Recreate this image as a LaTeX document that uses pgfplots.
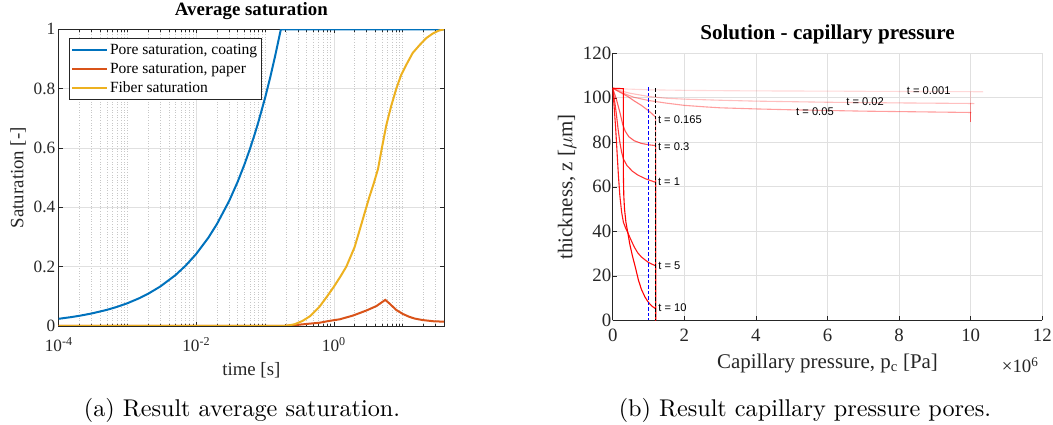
\documentclass[border=0pt]{standalone}
\usepackage{fontspec}
\usepackage{graphicx}
\usepackage{pgfplots}
\pgfplotsset{compat=1.18}
\newfontfamily\tnr{Liberation Serif}
\newfontfamily\arial{Liberation Sans}
\definecolor{mblue}{rgb}{0,0.447,0.741}
\definecolor{morange}{rgb}{0.85,0.325,0.098}
\definecolor{myellow}{rgb}{0.929,0.694,0.125}
\definecolor{maxis}{rgb}{0.15,0.15,0.15}
\definecolor{mgrid}{rgb}{0.88,0.88,0.88}
\definecolor{mminor}{rgb}{0.78,0.78,0.78}
\begin{document}
\begin{tikzpicture}
\useasboundingbox (0,0) rectangle (1053bp,425bp);
% ---------------- left: average saturation ----------------
\begin{axis}[
  at={(58.7bp,99bp)}, anchor=south west,
  scale only axis, width=385.3bp, height=296.7bp,
  xmode=log, xmin=1e-4, xmax=40, ymin=0, ymax=1,
  xtick={1e-4,1e-2,1},
  xticklabels={10\textsuperscript{-4},10\textsuperscript{-2},10\textsuperscript{0}},
  minor xtick={2e-4,3e-4,4e-4,5e-4,6e-4,7e-4,8e-4,9e-4,1e-3,2e-3,3e-3,4e-3,5e-3,6e-3,7e-3,8e-3,9e-3,
               2e-2,3e-2,4e-2,5e-2,6e-2,7e-2,8e-2,9e-2,1e-1,2e-1,3e-1,4e-1,5e-1,6e-1,7e-1,8e-1,9e-1,
               2,3,4,5,6,7,8,9,10,20,30},
  ytick={0,0.2,0.4,0.6,0.8,1},
  yticklabels={0,0.2,0.4,0.6,0.8,1},
  tick align=inside,
  major tick length=4bp, minor tick length=2.5bp,
  every tick/.style={maxis, line width=0.5bp},
  axis line style={maxis, line width=0.6bp},
  xmajorgrids, ymajorgrids, xminorgrids,
  major grid style={mgrid, line width=0.6bp},
  minor grid style={mminor, line width=0.45bp, dash pattern=on 0.6bp off 2bp},
  tick label style={font=\tnr\fontsize{17.3}{20}\selectfont, text=maxis},
  xticklabel style={yshift=-8bp},
  xlabel={time [s]}, ylabel={Saturation [-]},
  label style={font=\tnr\fontsize{18.9}{22}\selectfont, text=maxis},
  xlabel style={at={(axis description cs:0.5,-0.1685)}, anchor=base},
  ylabel style={at={(axis description cs:-0.1056,0.5)}, anchor=center},
  title={Average saturation},
  title style={font=\tnr\bfseries\fontsize{18.9}{22}\selectfont, text=black,
               at={(axis description cs:0.5,1.0256)}, anchor=base},
  legend style={at={(axis description cs:0.026,0.9697)}, anchor=north west,
                font=\tnr\fontsize{15.6}{18.3}\selectfont, draw=maxis, fill=white,
                line width=0.6bp, inner xsep=2bp, inner ysep=3.5bp, row sep=3.2bp},
  legend cell align=left,
  legend image code/.code={\draw[#1] (0bp,0bp) -- (35bp,0bp);},
]
\addplot[mblue, line width=2bp] coordinates {
 (1e-4,0.0243) (1.5e-4,0.0298) (2e-4,0.0344) (3e-4,0.0421) (5e-4,0.0543) (7e-4,0.0643)
 (1e-3,0.0768) (1.5e-3,0.0941) (2e-3,0.1087) (3e-3,0.1331) (5e-3,0.1718) (7e-3,0.2033)
 (1e-2,0.2430) (1.5e-2,0.2976) (2e-2,0.3437) (3e-2,0.4209) (4e-2,0.4860) (5e-2,0.5434)
 (6e-2,0.5952) (7e-2,0.6429) (8e-2,0.6873) (0.1,0.7684) (0.12,0.8418) (0.14,0.9092)
 (0.16,0.9720) (0.17,1.0) (40,1.0)};
\addlegendentry{Pore saturation, coating}
\addplot[morange, line width=2bp] coordinates {
 (1e-4,0) (0.18,0) (0.3,0.004) (0.45,0.008) (0.62,0.011) (0.85,0.017) (1.22,0.0226)
 (1.89,0.035) (2.96,0.052) (4.15,0.067) (5,0.08) (5.6,0.088) (6.5,0.075) (8.1,0.054)
 (10,0.041) (12.5,0.031) (15,0.025) (19.6,0.02) (28,0.016) (40,0.0145)};
\addlegendentry{Pore saturation, paper}
\addplot[myellow, line width=2bp] coordinates {
 (1e-4,0) (0.18,0) (0.22,0.002) (0.27,0.006) (0.35,0.017) (0.45,0.033) (0.62,0.065)
 (0.8,0.1) (1,0.132) (1.25,0.167) (1.52,0.2) (2,0.265) (2.38,0.324) (2.8,0.38) (3.3,0.436)
 (3.8,0.48) (4.4,0.53) (5,0.6) (5.8,0.677) (6.8,0.74) (8.1,0.8) (9.5,0.845) (11.3,0.88)
 (14,0.92) (17.7,0.947) (22,0.97) (27.6,0.986) (33,0.995) (40,1)};
\addlegendentry{Fiber saturation}
\end{axis}
% ---------------- right: capillary pressure ----------------
\begin{axis}[
  at={(612.7bp,104.7bp)}, anchor=south west,
  scale only axis, width=429.6bp, height=267bp,
  xmin=0, xmax=12, ymin=0, ymax=120,
  xtick={0,2,4,6,8,10,12}, xticklabels={0,2,4,6,8,10,12},
  ytick={0,20,40,60,80,100,120}, yticklabels={0,20,40,60,80,100,120},
  axis x line*=bottom, axis y line*=left,
  axis line style={-, maxis, line width=0.6bp},
  tick align=inside, major tick length=4bp,
  every tick/.style={maxis, line width=0.5bp},
  xmajorgrids, ymajorgrids,
  major grid style={mgrid, line width=0.6bp},
  tick label style={font=\tnr\fontsize{18.9}{22}\selectfont, text=maxis},
  xticklabel style={yshift=-5bp},
  yticklabel style={xshift=2bp},
  xlabel={Capillary pressure, p\textsubscript{c} [Pa]},
  ylabel={thickness, z [$\mu$m]},
  label style={font=\tnr\fontsize{21}{24}\selectfont, text=maxis},
  xlabel style={at={(axis description cs:0.5,-0.1787)}, anchor=base},
  ylabel style={at={(axis description cs:-0.106,0.5)}, anchor=center},
  title={Solution - capillary pressure},
  title style={font=\tnr\bfseries\fontsize{21.2}{24}\selectfont, text=black,
               at={(axis description cs:0.5,1.031)}, anchor=base},
  extra description/.code={
    \node[anchor=base west, font=\tnr\fontsize{18.9}{22}\selectfont, text=maxis, inner sep=0pt]
      at (0.9055,-0.196) {×10\textsuperscript{6}};
  },
]
\addplot[red, draw opacity=0.15, line width=1.1bp] coordinates {
 (0,104.3) (0.3,104) (1,103.6) (2,103.35) (3,103.2) (4,103.1) (6,103) (8,102.85) (10,102.75) (10.35,102.7)};
\addplot[red, draw opacity=0.15, line width=1.1bp] coordinates {(10,102.75) (10,89.3)};
\addplot[red, draw opacity=0.25, line width=1.1bp] coordinates {
 (0,104.3) (0.25,103) (0.5,102) (1,100.6) (1.5,99.8) (2,99.4) (3,98.9) (4,98.5) (6,98) (8,97.7) (10,97.45) (10.1,97.4)};
\addplot[red, draw opacity=0.25, line width=1.1bp] coordinates {(10,97.45) (10,89.3)};
\addplot[red, draw opacity=0.38, line width=1.1bp] coordinates {
 (0,104.3) (0.3,102) (0.6,100.2) (1,98.8) (1.5,97.6) (2,96.6) (2.6,95.9) (3,95.5) (4,95.0)
 (5,94.6) (6,94.3) (7,94) (8,93.8) (9,93.6) (10,93.4) (10.02,93.4)};
\addplot[red, draw opacity=0.38, line width=1.1bp] coordinates {(10,93.4) (10,89.3)};
\addplot[red, draw opacity=0.5, line width=1.1bp] coordinates {
 (0,104.3) (0.2,102.5) (0.43,100.5) (0.6,98.6) (0.8,96.6) (1.0,94.2) (1.1,92.8) (1.2,91.2) (1.2,0)};
\addplot[red, draw opacity=0.65, line width=1.1bp] coordinates {
 (0,104.3) (0.1,99.5) (0.2,93.5) (0.28,88) (0.35,85) (0.45,82.5) (0.6,80.7) (0.8,79.5) (1.0,78.9) (1.2,78.5) (1.2,0)};
\addplot[red, draw opacity=0.78, line width=1.1bp] coordinates {
 (0,104.3) (0.05,99) (0.1,93) (0.15,86) (0.2,80) (0.25,75.5) (0.3,72.5) (0.4,69.5) (0.55,67) (0.7,65.3) (0.9,63.7) (1.2,62) (1.2,0)};
\addplot[red, draw opacity=0.9, line width=1.1bp] coordinates {
 (0,104.3) (0.04,96) (0.08,87) (0.12,76) (0.16,65) (0.2,56) (0.25,48.5) (0.3,44) (0.36,41.5) (0.42,39.5)
 (0.5,36.5) (0.6,33) (0.7,30.3) (0.8,28.5) (0.9,27.2) (1.0,26) (1.1,25.2) (1.2,24.5) (1.2,0)};
\addplot[red, line width=1.1bp] coordinates {
 (0,104.3) (0.3,104.1) (0.3,64) (0.31,56) (0.33,50) (0.37,44) (0.42,39.5) (0.48,34) (0.55,29) (0.63,24)
 (0.72,18) (0.8,14) (0.9,10.5) (1.0,8) (1.1,6.3) (1.2,5.2) (1.2,0)};
\addplot[blue, line width=1.3bp, dash pattern=on 3.5bp off 2bp] coordinates {(1.0,104.7) (1.0,0)};
\addplot[black, line width=1.3bp, dash pattern=on 3.5bp off 2bp] coordinates {(1.2,104.3) (1.2,0)};
\begin{scope}[every node/.style={font=\arial\fontsize{11.2}{13}\selectfont, inner sep=0pt, anchor=west}]
\node at (axis cs:8.21,103.1) {t = 0.001};
\node at (axis cs:6.52,98.2) {t = 0.02};
\node at (axis cs:5.12,93.6) {t = 0.05};
\node at (axis cs:1.26,90) {t = 0.165};
\node at (axis cs:1.26,78) {t = 0.3};
\node at (axis cs:1.26,62.3) {t = 1};
\node at (axis cs:1.27,24.4) {t = 5};
\node at (axis cs:1.27,5.7) {t = 10};
\end{scope}
\end{axis}
% ---------------- captions ----------------
\node[anchor=base, inner sep=0pt] at (242bp,8bp) {\scalebox{2.43}{(a) Result average saturation.}};
\node[anchor=base, inner sep=0pt] at (805bp,8bp) {\scalebox{2.43}{(b) Result capillary pressure pores.}};
\end{tikzpicture}
\end{document}
